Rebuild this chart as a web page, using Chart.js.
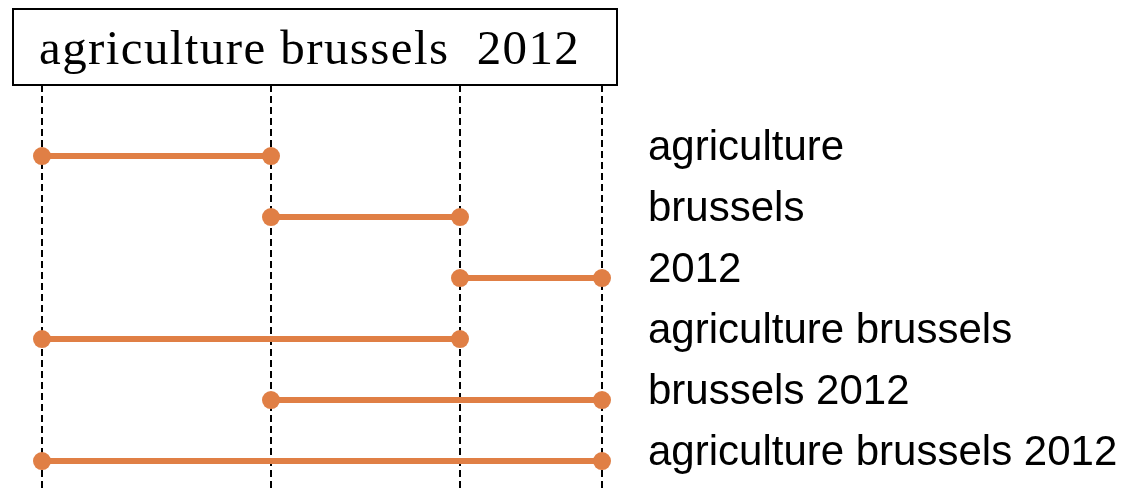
<!DOCTYPE html>
<html>
<head>
<meta charset="utf-8">
<script src="https://cdn.jsdelivr.net/npm/chart.js@4"></script>
<style>
  html, body { margin: 0; padding: 0; background: #fff; }
  #wrap { position: relative; width: 1126px; height: 491px; }
  #titleBox {
    position: absolute; left: 12px; top: 8px; width: 577px; height: 74px;
    border: 2px solid #000; background: #fff;
    font-family: "Liberation Serif", "Times New Roman", serif;
    font-size: 49px; letter-spacing: 1.4px; line-height: 75px;
    white-space: pre; padding-left: 25px; box-sizing: content-box;
  }
</style>
</head>
<body>
<div id="wrap">
  <canvas id="spanChart" width="1126" height="491"></canvas>
  <div id="titleBox">agriculture brussels  2012</div>
</div>
<script>
// word boundaries of the title, in horizontal text units
const wordEdges = [0, 229, 418, 560];
const phrases = ['agriculture', 'brussels', '2012', 'agriculture brussels', 'brussels 2012', 'agriculture brussels 2012'];
const spanStart = [0, 1, 2, 0, 1, 0];
const spanEnd = [1, 2, 3, 2, 3, 3];

const orange = '#E07F45';

const datasets = phrases.map((p, i) => ({
    label: p,
    data: [
        { x: wordEdges[spanStart[i]], y: i },
        { x: wordEdges[spanEnd[i]], y: i }
    ],
    borderColor: orange,
    backgroundColor: orange,
    borderWidth: 6,
    pointRadius: 9,
    pointBorderWidth: 0,
    pointBackgroundColor: orange,
    clip: false
}));

const ctx = document.getElementById('spanChart').getContext('2d');
const chart = new Chart(ctx, {
    type: 'line',
    data: { datasets: datasets },
    options: {
        responsive: false,
        animation: false,
        devicePixelRatio: 1,
        layout: {
            autoPadding: false,
            padding: { top: 85, left: 42, right: 0, bottom: 0 }
        },
        plugins: {
            legend: { display: false },
            tooltip: { enabled: false }
        },
        scales: {
            x: {
                type: 'linear',
                min: 0,
                max: 560,
                z: 1,
                afterBuildTicks: function(axis) {
                    axis.ticks = wordEdges.map(v => ({ value: v }));
                },
                afterFit: function(axis) {
                    axis.height = 0;
                    axis.paddingLeft = 0;
                    axis.paddingRight = 0;
                },
                ticks: { display: false },
                grid: {
                    color: '#000',
                    lineWidth: 2,
                    drawTicks: false
                },
                border: { display: false, dash: [7, 4] }
            },
            y: {
                type: 'linear',
                position: 'right',
                reverse: true,
                min: -1.164,
                max: 5.49,
                afterBuildTicks: function(axis) {
                    axis.ticks = phrases.map((_, i) => ({ value: i }));
                },
                afterFit: function(axis) {
                    axis.width = 524;
                    // labels sit well inside the plot, no extra room needed
                    axis.paddingTop = 0;
                    axis.paddingBottom = 0;
                },
                ticks: {
                    autoSkip: false,
                    padding: 46,
                    labelOffset: -8,
                    color: '#000',
                    font: { family: '"Liberation Sans", Arial, sans-serif', size: 42 },
                    callback: function(value) {
                        return phrases[value];
                    }
                },
                grid: { display: false, drawTicks: false },
                border: { display: false }
            }
        }
    }
});
</script>
</body>
</html>
